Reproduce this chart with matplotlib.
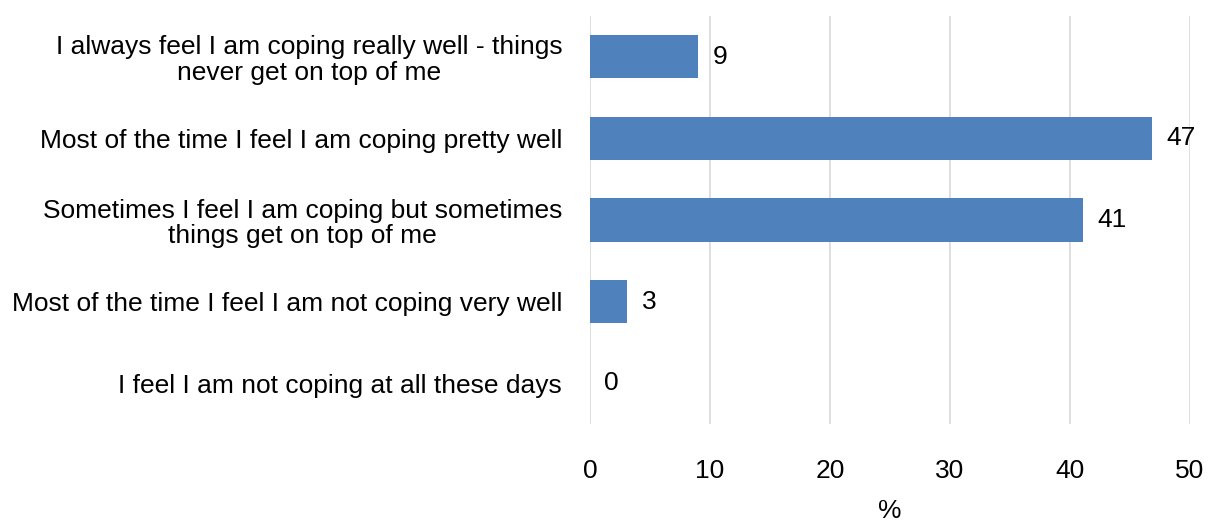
import matplotlib
matplotlib.use('Agg')
import matplotlib.pyplot as plt

# Data
categories = [
    'I always feel I am coping really well - things\nnever get on top of me',
    'Most of the time I feel I am coping pretty well',
    'Sometimes I feel I am coping but sometimes\nthings get on top of me',
    'Most of the time I feel I am not coping very well',
    'I feel I am not coping at all these days',
]
values = [9.0, 46.8, 41.1, 3.1, 0.0]
labels = ['9', '47', '41', '3', '0']
xticks = [0, 10, 20, 30, 40, 50]

plt.rcParams['font.family'] = ['Liberation Sans', 'DejaVu Sans']
fs = 19

fig = plt.figure(figsize=(12.12, 5.21), dpi=100)
ax = fig.add_axes([590 / 1212, 1 - 424 / 521, 600 / 1212, 408 / 521])

ypos = list(range(len(categories)))
ax.barh(ypos, values, height=0.53, color='#4F81BD', zorder=3)
for y, v, lab in zip(ypos, values, labels):
    ax.text(v + 1.2, y, lab, va='center', ha='left', fontsize=fs, color='black')

ax.set_xlim(0, 50)
ax.set_ylim(len(categories) - 0.5, -0.5)
ax.set_xticks(xticks)
ax.set_yticks(ypos)
ax.set_yticklabels(categories, fontsize=fs, ha='right', multialignment='center',
                   linespacing=1.1)
ax.tick_params(axis='x', labelsize=fs, length=0, pad=25)
ax.tick_params(axis='y', length=0, pad=20)
ax.grid(axis='x', color='#D9D9D9', linewidth=1.2, zorder=0)
for s in ax.spines.values():
    s.set_visible(False)
ax.set_xlabel('%', fontsize=fs, labelpad=12)

fig.savefig('out.png', dpi=100)
